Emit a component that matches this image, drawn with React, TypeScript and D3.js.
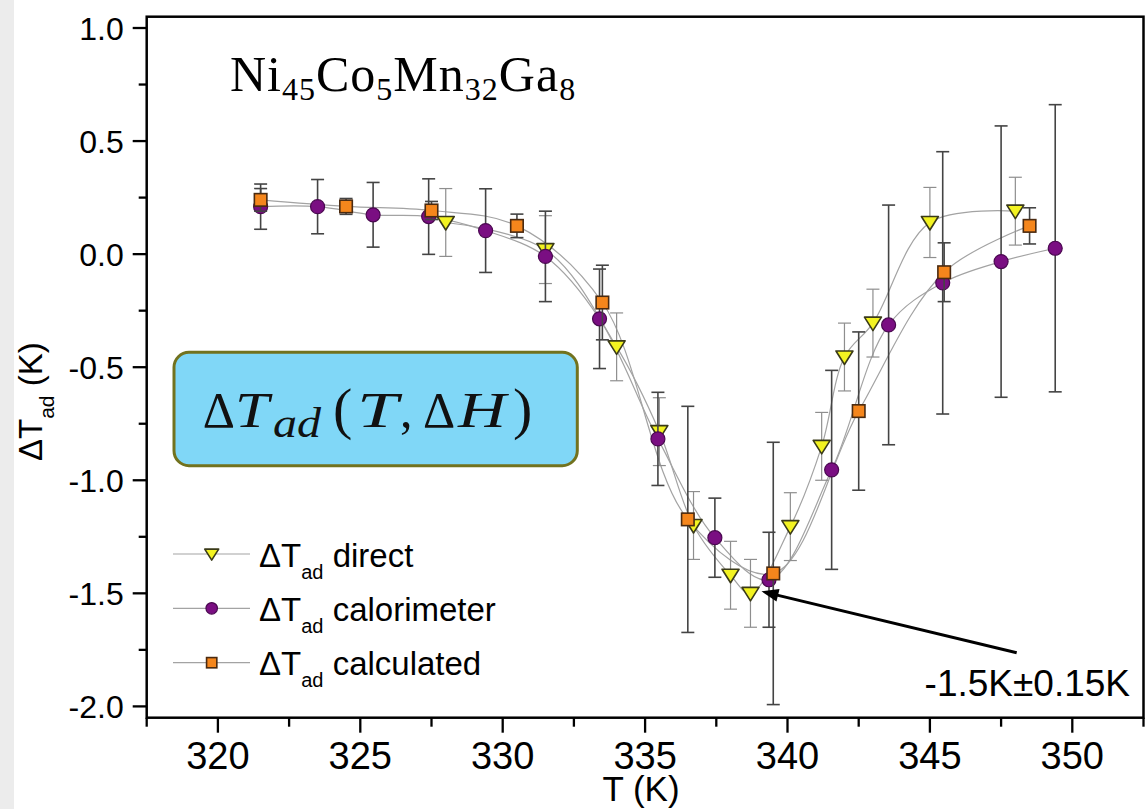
import React from 'react';
import * as d3 from 'd3';

// ---- data ----
const directT = [328, 331.5, 334, 335.5, 336.7, 338, 338.7, 340.1, 341.2, 342, 343, 345, 348];
const directDT = [0.14, 0.02, -0.41, -0.785, -1.2, -1.42, -1.5, -1.205, -0.85, -0.455, -0.305, 0.14, 0.19];
const directErr = [0.15, 0.15, 0.15, 0.15, 0.15, 0.15, 0.15, 0.15, 0.15, 0.15, 0.15, 0.155, 0.15];

const calorT = [321.5, 323.5, 325.45, 327.4, 329.4, 331.5, 333.4, 335.45, 337.45, 339.35, 341.55, 343.55, 345.45, 347.5, 349.4];
const calorDT = [0.21, 0.21, 0.174, 0.166, 0.104, -0.01, -0.286, -0.817, -1.254, -1.44, -0.954, -0.313, -0.127, -0.033, 0.026];
const calorErr = [0.1, 0.12, 0.143, 0.167, 0.185, 0.2, 0.22, 0.206, 0.175, 0.21, 0.44, 0.53, 0.58, 0.6, 0.635];

const calcT = [321.5, 324.5, 327.5, 330.5, 333.5, 336.5, 339.5, 342.5, 345.5, 348.5];
const calcDT = [0.24, 0.211, 0.193, 0.125, -0.214, -1.173, -1.412, -0.694, -0.08, 0.125];
const calcErr = [0.05, 0.035, 0.04, 0.052, 0.165, 0.5, 0.58, 0.35, 0.13, 0.08];

const yMajorTicks = [-2.0, -1.5, -1.0, -0.5, 0.0, 0.5, 1.0];
const yMinorTicks = [-1.75, -1.25, -0.75, -0.25, 0.25, 0.75];
const xMajorTicks = [320, 325, 330, 335, 340, 345, 350];
const xMinorTicks = [317.5, 322.5, 327.5, 332.5, 337.5, 342.5, 347.5, 352.5];

const legendLabels = ['direct', 'calorimeter', 'calculated'];

const SANS = '"Liberation Sans", Arial, sans-serif';
const SERIF = '"Liberation Serif", "Times New Roman", serif';

const COL = {
  triFill: '#f3f321', triStroke: '#3a3a18',
  cirFill: '#7a0e82', cirStroke: '#4a0850',
  sqFill: '#f5861c', sqStroke: '#4a2a10',
  line: '#a3a3a3', errDark: '#444444', errLight: '#8e8e8e',
};

function Marker({ kind, cx, cy, s = 1 }: { kind: string; cx: number; cy: number; s?: number }) {
  if (kind === 'tri') {
    const p = `M${cx - 8.5 * s},${cy - 6 * s} L${cx + 8.5 * s},${cy - 6 * s} L${cx},${cy + 7.5 * s} Z`;
    return <path d={p} fill={COL.triFill} stroke={COL.triStroke} strokeWidth={1.6} strokeLinejoin="round" />;
  }
  if (kind === 'cir') {
    return <circle cx={cx} cy={cy} r={7 * s} fill={COL.cirFill} stroke={COL.cirStroke} strokeWidth={1.2} />;
  }
  const h = 6.25 * s;
  return <rect x={cx - h} y={cy - h} width={2 * h} height={2 * h} fill={COL.sqFill} stroke={COL.sqStroke} strokeWidth={1.6} />;
}

export default function App() {
  const W = 1145, H = 809;
  const x = d3.scaleLinear().domain([317.5, 352.5]).range([146.7, 1143.5]);
  const y = d3.scaleLinear().domain([-2.05, 1.05]).range([717.7, 16.7]);
  const x0 = x.range()[0], x1 = x.range()[1];
  const yb = y.range()[0], yt = y.range()[1];

  const lineGen = d3.line<[number, number]>().x(d => x(d[0])).y(d => y(d[1])).curve(d3.curveCatmullRom.alpha(0.5));

  const series = [
    { kind: 'tri', T: directT, V: directDT, E: directErr, errColor: COL.errLight, errW: 1.2 },
    { kind: 'cir', T: calorT, V: calorDT, E: calorErr, errColor: COL.errDark, errW: 1.6 },
    { kind: 'sq', T: calcT, V: calcDT, E: calcErr, errColor: COL.errDark, errW: 1.6 },
  ];

  const cap = 6.5;

  // annotation arrow
  const tail: [number, number] = [1016.7, 652.7];
  const tip: [number, number] = [x(338.7) + 11, y(-1.5) - 2];
  const dx = tip[0] - tail[0], dy = tip[1] - tail[1];
  const len = Math.hypot(dx, dy);
  const ux = dx / len, uy = dy / len;
  const hl = 17, hw = 6.5;
  const baseX = tip[0] - ux * hl, baseY = tip[1] - uy * hl;
  const head = `M${tip[0]},${tip[1]} L${baseX - uy * hw},${baseY + ux * hw} L${baseX + uy * hw},${baseY - ux * hw} Z`;

  const legendRows = [554, 608.3, 662.7];
  const legendKinds = ['tri', 'cir', 'sq'];

  const fb = 426.7; // formula baseline

  return (
    <svg width={W} height={H} style={{ position: 'absolute', left: 0, top: 0, background: '#fff' }}>
      <rect x={0} y={0} width={W} height={H} fill="#ffffff" />
      <rect x={0} y={0} width={14} height={H} fill="#ececec" />

      {/* series lines */}
      {series.map((s, si) => {
        const pts = d3.zip(s.T, s.V) as [number, number][];
        return <path key={'l' + si} d={lineGen(pts) || ''} fill="none" stroke={COL.line} strokeWidth={1.2} />;
      })}
      {series.map((s, si) => (
        <g key={'m' + si}>
          {s.T.map((t, i) => {
            const cx = x(t);
            const yTop = y(s.V[i] + s.E[i]);
            const yBot = y(s.V[i] - s.E[i]);
            return (
              <g key={i} stroke={s.errColor} strokeWidth={s.errW}>
                <line x1={cx} x2={cx} y1={yTop} y2={yBot} />
                <line x1={cx - cap} x2={cx + cap} y1={yTop} y2={yTop} />
                <line x1={cx - cap} x2={cx + cap} y1={yBot} y2={yBot} />
              </g>
            );
          })}
          {s.T.map((t, i) => (
            <Marker key={'k' + i} kind={s.kind} cx={x(t)} cy={y(s.V[i])} />
          ))}
        </g>
      ))}

      {/* frame */}
      <rect x={x0} y={yt} width={x1 - x0} height={yb - yt} fill="none" stroke="#000" strokeWidth={2.5} />

      {/* y ticks */}
      {yMajorTicks.map(v => (
        <g key={'ym' + v}>
          <line x1={x0 - 14} x2={x0} y1={y(v)} y2={y(v)} stroke="#000" strokeWidth={2.3} />
          <text x={x0 - 23} y={y(v)} dy="0.36em" textAnchor="end" fontFamily={SANS} fontSize={32} fill="#000">
            {v.toFixed(1)}
          </text>
        </g>
      ))}
      {yMinorTicks.map(v => (
        <line key={'yn' + v} x1={x0 - 8} x2={x0} y1={y(v)} y2={y(v)} stroke="#000" strokeWidth={2.3} />
      ))}

      {/* x ticks */}
      {xMajorTicks.map(v => (
        <g key={'xm' + v}>
          <line x1={x(v)} x2={x(v)} y1={yb} y2={yb + 15} stroke="#000" strokeWidth={2.3} />
          <text x={x(v)} y={yb + 51.6} textAnchor="middle" fontFamily={SANS} fontSize={38} fill="#000">
            {v}
          </text>
        </g>
      ))}
      {xMinorTicks.map(v => (
        <line key={'xn' + v} x1={x(v)} x2={x(v)} y1={yb} y2={yb + 9} stroke="#000" strokeWidth={2.3} />
      ))}

      {/* axis titles */}
      <text x={641} y={801} textAnchor="middle" fontFamily={SANS} fontSize={35} fill="#000">T (K)</text>
      <text transform="translate(41.7,401.7) rotate(-90)" textAnchor="middle" fontFamily={SANS} fontSize={33} fill="#000">
        ΔT<tspan fontSize={21} dy={12}>ad</tspan><tspan dy={-12}> (K)</tspan>
      </text>

      {/* composition label */}
      <text x={230} y={90.7} fontFamily={SERIF} fontSize={50} letterSpacing={1} fill="#000">
        Ni<tspan fontSize={32} dy={9}>45</tspan><tspan dy={-9}>Co</tspan><tspan fontSize={32} dy={9}>5</tspan>
        <tspan dy={-9}>Mn</tspan><tspan fontSize={32} dy={9}>32</tspan><tspan dy={-9}>Ga</tspan>
        <tspan fontSize={32} dy={9}>8</tspan>
      </text>

      {/* formula box */}
      <rect x={174} y={352.3} width={403.3} height={113.4} rx={15} fill="#80d7f7" stroke="#72721e" strokeWidth={3} />
      <g fontFamily={SERIF} fill="#111">
        <text x={202.7} y={fb} fontSize={50}>Δ</text>
        <text x={235} y={fb} fontSize={50} fontStyle="italic" textLength={34} lengthAdjust="spacingAndGlyphs">T</text>
        <text x={273} y={fb + 10} fontSize={42} fontStyle="italic" textLength={48} lengthAdjust="spacingAndGlyphs">ad</text>
        <text x={333} y={fb + 1} fontSize={58}>(</text>
        <text x={357} y={fb} fontSize={50} fontStyle="italic" textLength={41} lengthAdjust="spacingAndGlyphs">T</text>
        <text x={400} y={fb} fontSize={50}>,</text>
        <text x={423} y={fb} fontSize={50}>Δ</text>
        <text x={458} y={fb} fontSize={50} fontStyle="italic" textLength={48} lengthAdjust="spacingAndGlyphs">H</text>
        <text x={513} y={fb + 1} fontSize={58}>)</text>
      </g>

      {/* legend */}
      {legendRows.map((ry, i) => (
        <g key={'lg' + i}>
          <line x1={173} x2={250} y1={ry} y2={ry} stroke={COL.line} strokeWidth={1.2} />
          <Marker kind={legendKinds[i]} cx={211.7} cy={ry} s={0.82} />
          <text x={259} y={ry + 12.7} fontFamily={SANS} fontSize={33} fill="#000">
            ΔT<tspan fontSize={20} dy={12}>ad</tspan><tspan dy={-12}> {legendLabels[i]}</tspan>
          </text>
        </g>
      ))}

      {/* annotation */}
      <line x1={tail[0]} y1={tail[1]} x2={baseX + ux * 2} y2={baseY + uy * 2} stroke="#000" strokeWidth={3} />
      <path d={head} fill="#000" />
      <text x={1130} y={696} textAnchor="end" fontFamily={SANS} fontSize={37} fill="#000">-1.5K±0.15K</text>
    </svg>
  );
}
